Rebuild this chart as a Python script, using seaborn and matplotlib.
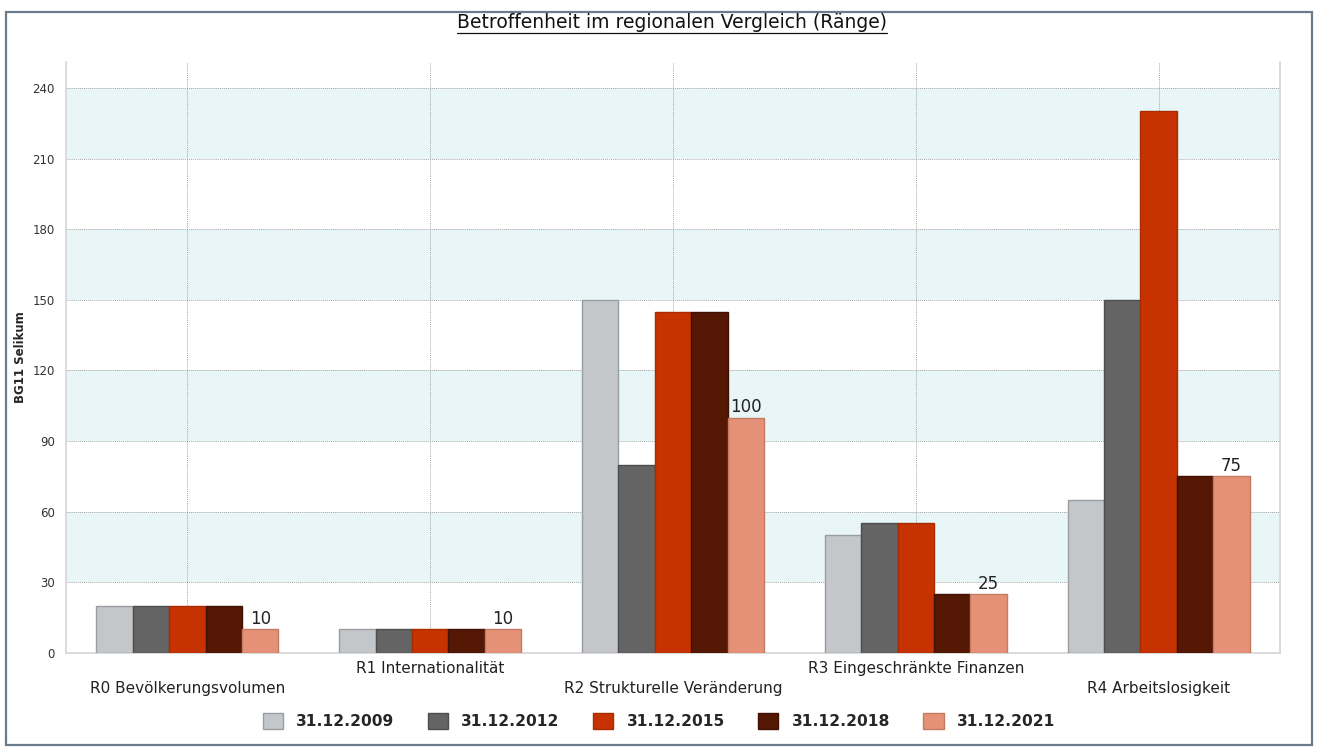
import matplotlib
matplotlib.use("Agg")
import matplotlib.pyplot as plt
from matplotlib.patches import Rectangle
from matplotlib.lines import Line2D
import seaborn as sns
import pandas as pd

# data
regions = ["R0 Bevölkerungsvolumen", "R1 Internationalität", "R2 Strukturelle Veränderung",
           "R3 Eingeschränkte Finanzen", "R4 Arbeitslosigkeit"]
dates = ["31.12.2009", "31.12.2012", "31.12.2015", "31.12.2018", "31.12.2021"]
v2009 = [20, 10, 150, 50, 65]
v2012 = [20, 10, 80, 55, 150]
v2015 = [20, 10, 145, 55, 230]
v2018 = [20, 10, 145, 25, 75]
v2021 = [10, 10, 100, 25, 75]
yticks = [0, 30, 60, 90, 120, 150, 180, 210, 240]

colors = ["#C3C7CA", "#646464", "#C63300", "#551805", "#E59177"]
edges = ["#9A9EA2", "#4E4E4E", "#A82C00", "#401003", "#C57A62"]

df = pd.DataFrame({
    "region": regions * 5,
    "date": [d for d in dates for _ in regions],
    "value": v2009 + v2012 + v2015 + v2018 + v2021,
})

sns.set_style("white")
plt.rcParams["font.family"] = ["DejaVu Sans"]

fig = plt.figure(figsize=(13.18, 7.53), dpi=100)
ax = fig.add_axes([0.0501, 0.1328, 0.9211, 0.7849])

# alternating background bands
for lo in [30, 90, 150, 210]:
    ax.axhspan(lo, lo + 30, color="#E8F6F7", zorder=0, lw=0)

sns.barplot(data=df, x="region", y="value", hue="date", hue_order=dates,
            palette=colors, width=0.75, saturation=1, ax=ax, zorder=3)

for cont, ec in zip(ax.containers, edges):
    for bar in cont:
        bar.set_edgecolor(ec)
        bar.set_linewidth(1.0)

ax.bar_label(ax.containers[-1], labels=[str(v) for v in v2021], padding=1,
             fontsize=12, color="#222222", zorder=5)

ax.set_xlim(-0.5, 4.5)
ax.set_ylim(0, 251)
ax.set_yticks(yticks)
ax.set_yticklabels([str(t) for t in yticks], fontsize=8.5, color="#333333")
ax.tick_params(axis="y", length=5, color="#B0B0B0", pad=3)
ax.tick_params(axis="x", length=4, color="#D0D0D0", labelbottom=False)

ax.grid(True, axis="both", linestyle=(0, (1, 1)), color="#A8A8A8", lw=0.7, zorder=1)
ax.set_axisbelow(True)

for s in ["left", "bottom", "right"]:
    ax.spines[s].set_color("#D8D8D8")
    ax.spines[s].set_linewidth(1.3)
ax.spines["top"].set_visible(False)

ax.set_xlabel("")
ax.set_ylabel("BG11 Selikum", fontsize=8.5, fontweight="bold", labelpad=4)

# staggered category labels
for i, name in enumerate(regions):
    off = -20 if i % 2 == 0 else -6
    ax.annotate(name, xy=(i, 0), xycoords=("data", "axes fraction"),
                xytext=(0, off), textcoords="offset points",
                ha="center", va="top", fontsize=11, color="#222222")

ax.get_legend().remove()
handles = [Rectangle((0, 0), 1, 1, facecolor=c, edgecolor=e) for c, e in zip(colors, edges)]
fig.legend(handles, dates, loc="center", bbox_to_anchor=(0.5, 0.0425), ncol=5,
           frameon=False, prop={"weight": "bold", "size": 11.2},
           handlelength=1.3, handleheight=1.3, handletextpad=0.85, columnspacing=2.15)

# title with underline
title = fig.text(0.51, 0.97, "Betroffenheit im regionalen Vergleich (Ränge)",
                 ha="center", va="center", fontsize=13.5, color="#111111")
fig.canvas.draw()
bb = title.get_window_extent().transformed(fig.transFigure.inverted())
fig.add_artist(Line2D([bb.x0, bb.x1], [bb.y0 - 0.001, bb.y0 - 0.001],
                      transform=fig.transFigure, color="#111111", lw=0.9))

# outer frame
fig.add_artist(Rectangle((0.0046, 0.0106), 0.9909, 0.9734, transform=fig.transFigure,
                         fill=False, edgecolor="#6B7B8A", lw=1.6))

fig.savefig("out.png", dpi=100)
